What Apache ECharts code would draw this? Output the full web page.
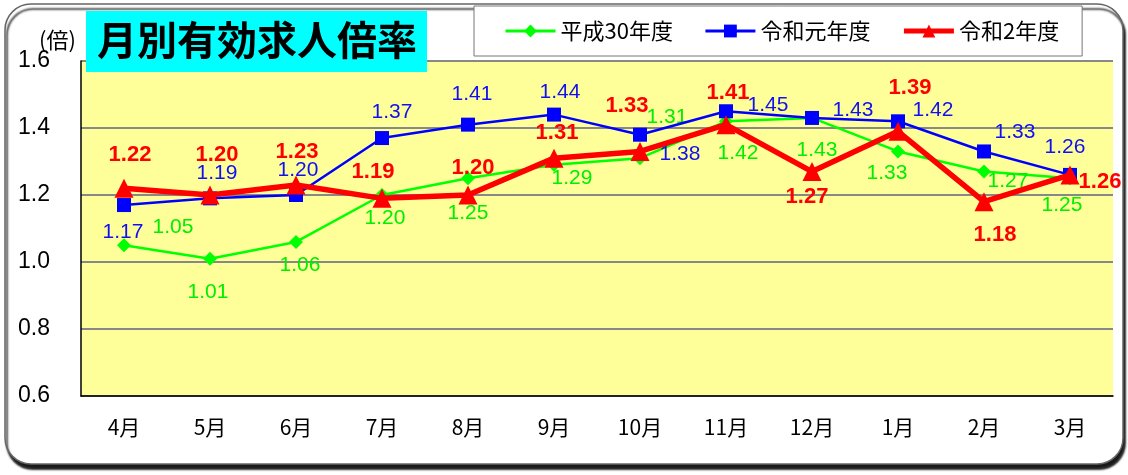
<!DOCTYPE html>
<html>
<head>
<meta charset="utf-8">
<script src="https://cdn.jsdelivr.net/npm/echarts@6/dist/echarts.min.js"></script>
<style>
html,body{margin:0;padding:0;background:#fff;}
#chart{width:1128px;height:475px;}
</style>
</head>
<body>
<div id="chart"></div>
<script>
var months = ['4月', '5月', '6月', '7月', '8月', '9月', '10月', '11月', '12月', '1月', '2月', '3月'];
var seriesNames = ['平成30年度', '令和元年度', '令和2年度'];
var h30 = [1.05, 1.01, 1.06, 1.20, 1.25, 1.29, 1.31, 1.42, 1.43, 1.33, 1.27, 1.25];
var r1 = [1.17, 1.19, 1.20, 1.37, 1.41, 1.44, 1.38, 1.45, 1.43, 1.42, 1.33, 1.26];
var r2 = [1.22, 1.20, 1.23, 1.19, 1.20, 1.31, 1.33, 1.41, 1.27, 1.39, 1.18, 1.26];
var yTicks = [0.6, 0.8, 1.0, 1.2, 1.4, 1.6];

// ラベル位置（点からのずれ）
var offH30 = [[49,-18],[-2,34],[4,23],[3,23],[0,35],[18,13],[27,-41],[12,32],[5,32],[-11,22],[24,10],[-8,27]];
var offR1 = [[-1,27],[7,-25],[2,-25],[10,-26],[4,-30],[6,-22],[40,20],[42,-6],[41,-8],[35,-11],[31,-19],[-5,-28]];
var offR2 = [[6,-33],[7,-40],[1,-33],[-9,-26],[5,-27],[3,-25],[-13,-46],[2,-32],[-5,25],[12,-43],[11,33],[30,7]];

window.onload = function() {
	var chart = echarts.init(document.getElementById('chart'));
	var numFont = 'Liberation Sans, Arial, Noto Sans CJK JP';
	var jpFont = 'Noto Sans CJK JP';

	function makeData(vals, offs) {
		var out = [];
		for (var i = 0; i < vals.length; i++) {
			out.push({ value: vals[i], label: { offset: offs[i] } });
		}
		return out;
	}
	function fmt(p) { return p.value.toFixed(2); }

	var option = {
		animation: false,
		grid: {
			left: 81, right: 15, top: 61, bottom: 79,
			show: true,
			backgroundColor: '#FFFF99',
			borderWidth: 0
		},
		legend: {
			data: [
				{ name: seriesNames[0], lineStyle: { width: 3 } },
				{ name: seriesNames[1], lineStyle: { width: 3 } },
				{ name: seriesNames[2], lineStyle: { width: 5 } }
			],
			left: 474,
			top: 6,
			padding: [14, 23, 14, 30],
			itemWidth: 50,
			itemHeight: 16,
			itemGap: 31,
			backgroundColor: '#fff',
			borderColor: '#777',
			borderWidth: 1,
			textStyle: { fontSize: 22, color: '#000', fontFamily: jpFont }
		},
		xAxis: {
			type: 'category',
			data: months,
			axisLine: { lineStyle: { color: '#000', width: 1.5 } },
			axisTick: { inside: true, length: 7, lineStyle: { color: '#888' } },
			axisLabel: { fontSize: 21, color: '#000', margin: 21, fontFamily: jpFont }
		},
		yAxis: {
			type: 'value',
			min: yTicks[0],
			max: yTicks[yTicks.length - 1],
			interval: 0.2,
			axisLine: { show: true, lineStyle: { color: '#000', width: 1.5 } },
			axisTick: { show: false },
			axisLabel: {
				fontSize: 23, color: '#000', margin: 31, fontFamily: 'Liberation Sans Narrow, Liberation Sans, Arial',
				formatter: function(v) { return v.toFixed(1); }
			},
			splitLine: { lineStyle: { color: '#888', width: 2 } }
		},
		graphic: [
			{
				type: 'rect', z: -10, silent: true,
				shape: { x: 5, y: 4, width: 1118, height: 460, r: 26 },
				style: { fill: '#fff', stroke: '#666', lineWidth: 1.5, shadowColor: 'rgba(0,0,0,0.9)', shadowOffsetX: 2, shadowOffsetY: 5, shadowBlur: 2 }
			},
			{
				type: 'rect', z: 100,
				shape: { x: 86, y: 11, width: 341, height: 61 },
				style: { fill: '#00FFFF' }
			},
			{
				type: 'text', z: 101, left: 97, top: 20,
				style: { text: '月別有効求人倍率', fill: '#000', font: 'bold 40px "Noto Sans CJK JP"' }
			},
			{
				type: 'text', z: 101, left: 39, top: 29,
				style: { text: '(倍)', fill: '#000', font: '22px "Noto Sans CJK JP"' }
			}
		],
		series: [
			{
				name: seriesNames[0],
				type: 'line',
				data: makeData(h30, offH30),
				symbol: 'diamond',
				symbolSize: 14,
				itemStyle: { color: '#00FF00' },
				lineStyle: { color: '#00FF00', width: 2.5 },
				label: { show: true, position: 'inside', fontSize: 21, color: '#00EE00', fontFamily: numFont, formatter: fmt },
				z: 2
			},
			{
				name: seriesNames[1],
				type: 'line',
				data: makeData(r1, offR1),
				symbol: 'rect',
				symbolSize: 14,
				itemStyle: { color: '#0000FF' },
				lineStyle: { color: '#0000FF', width: 2.5 },
				label: { show: true, position: 'inside', fontSize: 21, color: '#1010F0', fontFamily: numFont, formatter: fmt },
				z: 3
			},
			{
				name: seriesNames[2],
				type: 'line',
				data: makeData(r2, offR2),
				symbol: 'triangle',
				symbolSize: 19,
				itemStyle: { color: '#FF0000' },
				lineStyle: { color: '#FF0000', width: 5.5 },
				label: { show: true, position: 'inside', fontSize: 22, fontWeight: 'bold', color: '#FF0000', fontFamily: numFont, formatter: fmt },
				z: 4
			}
		]
	};
	chart.setOption(option);
};
</script>
</body>
</html>
